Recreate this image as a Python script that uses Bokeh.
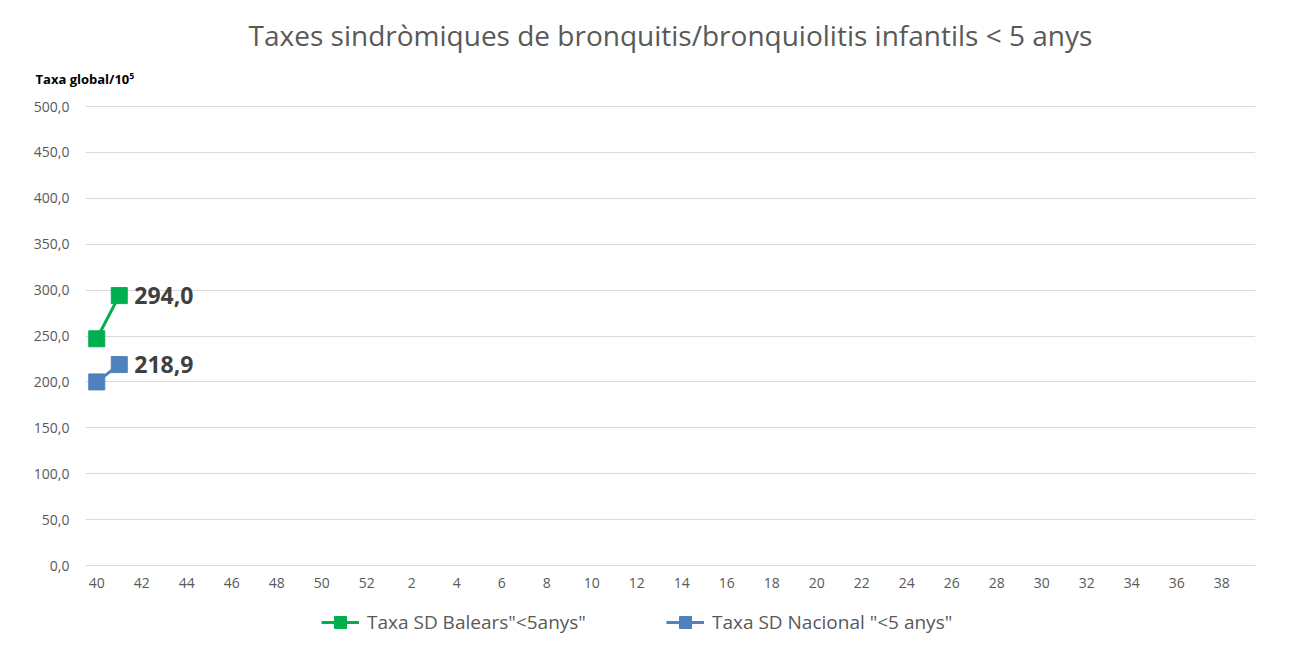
from bokeh.plotting import figure
from bokeh.models import (FixedTicker, Range1d, Label, Legend, LegendItem, Title)
from bokeh.embed import file_html
from bokeh.resources import INLINE

# ---- data ----
weeks = [str(w) for w in list(range(40, 53)) + list(range(1, 40))]
balears = [247.0, 294.0]           # Taxa SD Balears "<5anys"
nacional = [200.0, 218.9]          # Taxa SD Nacional "<5 anys"
y_ticks = [0, 50, 100, 150, 200, 250, 300, 350, 400, 450, 500]

title_text = "Taxes sindròmiques de bronquitis/bronquiolitis infantils < 5 anys"
ylab_text = "Taxa global/10\u2075"
name_bal = 'Taxa SD Balears"<5anys"'
name_nac = 'Taxa SD Nacional "<5 anys"'

GREEN = "#00b050"
BLUE = "#4f81bd"
GRID = "#d9d9d9"
TXT = "#595959"
FONT = "Open Sans"

idx = list(range(len(weeks)))

# frame runs to the bottom edge; y range extends below 0 to leave room for labels + legend
p = figure(width=1298, height=638, output_backend="svg", toolbar_location=None,
           x_range=Range1d(-0.5, len(weeks) - 0.5), y_range=Range1d(-79.5, 501.1),
           min_border_left=85, min_border_right=43, min_border_top=105, min_border_bottom=0)
p.outline_line_color = None
p.background_fill_color = "white"
p.border_fill_color = "white"

# main title (outermost)
p.title.text = title_text
p.title.align = "center"
p.title.text_font = FONT
p.title.text_font_size = "28px"
p.title.text_font_style = "normal"
p.title.text_color = TXT
p.title.standoff = -7

# y axis title placed just above the frame, left of it
yt = Title(text=ylab_text, align="left", offset=-50, text_font=FONT,
           text_font_size="13px", text_font_style="bold", text_color="black", standoff=35)
p.add_layout(yt, "above")

# axes
p.xaxis.fixed_location = 0
p.xaxis.ticker = FixedTicker(ticks=[i for i in idx if i % 2 == 0])
p.xaxis.major_label_overrides = {i: weeks[i] for i in idx}
p.yaxis.ticker = FixedTicker(ticks=y_ticks)
p.yaxis.major_label_overrides = {t: f"{t:.1f}".replace(".", ",") for t in y_ticks}
for ax in (p.xaxis[0], p.yaxis[0]):
    ax.axis_line_color = None
    ax.major_tick_line_color = None
    ax.minor_tick_line_color = None
    ax.major_label_text_font = FONT
    ax.major_label_text_font_size = "14px"
    ax.major_label_text_color = TXT
p.xaxis.major_label_standoff = 6
p.yaxis.major_label_standoff = 10
p.xgrid.grid_line_color = None
p.ygrid.grid_line_color = GRID
p.ygrid.grid_line_width = 1

# series
bx = idx[:len(balears)]
nx = idx[:len(nacional)]
lb = p.line(bx, balears, line_color=GREEN, line_width=3)
mb = p.scatter(bx, balears, marker="square", size=16, fill_color=GREEN, line_color=GREEN)
ln = p.line(nx, nacional, line_color=BLUE, line_width=3)
mn = p.scatter(nx, nacional, marker="square", size=16, fill_color=BLUE, line_color=BLUE)

# data labels on last points
for xs, ys in ((bx, balears), (nx, nacional)):
    p.add_layout(Label(x=xs[-1], y=ys[-1], text=f"{ys[-1]:.1f}".replace(".", ","),
                       x_offset=15, y_offset=0, text_baseline="middle",
                       text_font=FONT, text_font_style="bold", text_font_size="23px",
                       text_color="#404040"))

legend = Legend(items=[LegendItem(label=name_bal, renderers=[lb, mb]),
                       LegendItem(label=name_nac, renderers=[ln, mn])],
                orientation="horizontal", location=(236, 1),
                label_text_font=FONT, label_text_font_size="19px", label_text_color=TXT,
                border_line_color=None, background_fill_alpha=0,
                spacing=80, glyph_width=38, glyph_height=30, label_standoff=8,
                margin=0, padding=0)
p.add_layout(legend)

open("out.html", "w").write(file_html(p, INLINE))
